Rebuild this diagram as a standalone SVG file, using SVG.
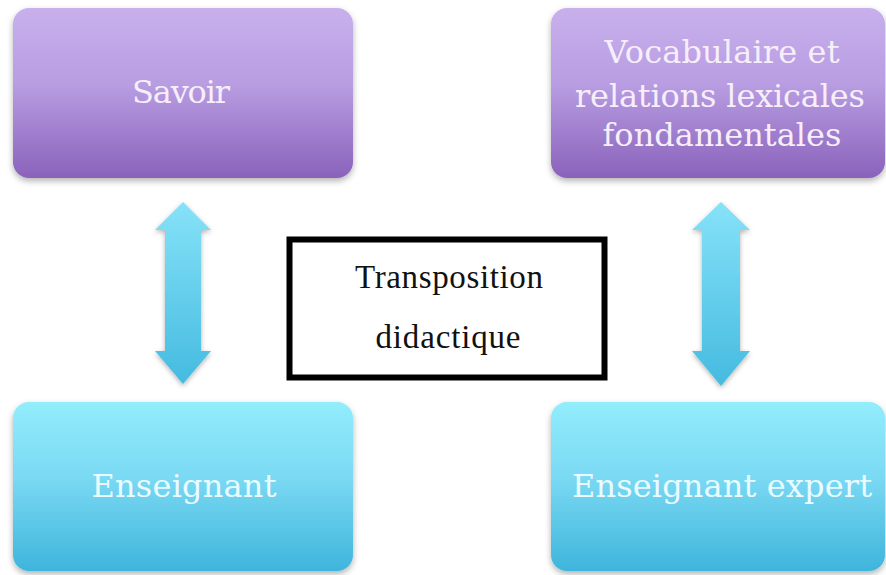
<svg xmlns="http://www.w3.org/2000/svg" width="886" height="575" viewBox="0 0 886 575">
<defs>
<linearGradient id="gPurple" x1="0" y1="0" x2="0" y2="1">
<stop offset="0" stop-color="#c8b0ec"/>
<stop offset="0.45" stop-color="#b89de2"/>
<stop offset="1" stop-color="#8a62bb"/>
</linearGradient>
<linearGradient id="gCyan" x1="0" y1="0" x2="0" y2="1">
<stop offset="0" stop-color="#92edfc"/>
<stop offset="0.45" stop-color="#7ad9f3"/>
<stop offset="1" stop-color="#3fb5dc"/>
</linearGradient>
<linearGradient id="gArrow" x1="0" y1="0" x2="0" y2="1">
<stop offset="0" stop-color="#86e2f8"/>
<stop offset="1" stop-color="#45bbe0"/>
</linearGradient>
<filter id="shadow" x="-10%" y="-10%" width="120%" height="130%">
<feDropShadow dx="0" dy="3" stdDeviation="3" flood-color="#000" flood-opacity="0.3"/>
</filter>
<filter id="ashadow" x="-30%" y="-10%" width="160%" height="130%">
<feDropShadow dx="0" dy="2" stdDeviation="2.5" flood-color="#000" flood-opacity="0.3"/>
</filter>
</defs>
<style>
.box{filter:url(#shadow);}
.p{fill:url(#gPurple);}
.c{fill:url(#gCyan);}
.lbl{font-family:"DejaVu Serif","Liberation Serif",serif;font-size:32px;text-anchor:middle;}
.lp{fill:#f6eef9;}
.lc{fill:#eafbff;}
.arrow{fill:url(#gArrow);filter:url(#ashadow);}
.ctr{font-family:"Liberation Serif","Times New Roman",serif;font-size:33px;fill:#111;text-anchor:middle;}
</style>
<rect width="886" height="575" fill="#ffffff"/>
<g id="connectors">
<path class="arrow" d="M183,202 L211,230 L201,230 L201,351 L211,351 L183,384 L155,351 L165,351 L165,230 L155,230 Z"/>
<path class="arrow" d="M721,202 L750,230 L740,230 L740,351 L750,351 L721,386 L692,351 L702,351 L702,230 L692,230 Z"/>
</g>
<g id="savoir">
<rect class="box p" x="13" y="8" width="340" height="170" rx="16"/>
<text class="lbl lp" x="181" y="103" textLength="98">Savoir</text>
</g>
<g id="vocabulaire">
<rect class="box p" x="551" y="8" width="334" height="170" rx="16"/>
<text class="lbl lp" x="722" y="63" textLength="235">Vocabulaire et</text>
<text class="lbl lp" x="720" y="107" textLength="290">relations lexicales</text>
<text class="lbl lp" x="722" y="146" textLength="239">fondamentales</text>
</g>
<g id="enseignant">
<rect class="box c" x="13" y="402" width="340" height="169" rx="16"/>
<text class="lbl lc" x="184" y="497" textLength="185">Enseignant</text>
</g>
<g id="enseignant-expert">
<rect class="box c" x="551" y="402" width="334" height="169" rx="16"/>
<text class="lbl lc" x="722" y="497" textLength="300">Enseignant expert</text>
</g>
<g id="transposition">
<rect x="289.5" y="239.5" width="315" height="138" fill="#ffffff" stroke="#000" stroke-width="6"/>
<text class="ctr" x="449" y="288" textLength="188">Transposition</text>
<text class="ctr" x="448" y="348" textLength="145">didactique</text>
</g>
</svg>
